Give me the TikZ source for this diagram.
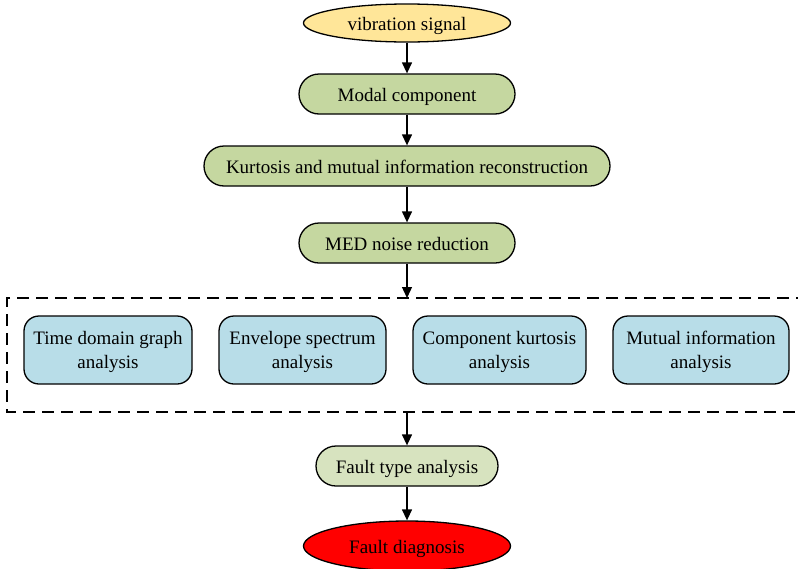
\documentclass[tikz,border=0pt]{standalone}
\usepackage{fontspec}
\setmainfont{Liberation Serif}
\usetikzlibrary{arrows.meta}
\usetikzlibrary{shapes.geometric}

\definecolor{signalfill}{HTML}{FFE699}
\definecolor{stepfill}{HTML}{C5D7A0}
\definecolor{faultfill}{HTML}{D7E3BF}
\definecolor{analysisfill}{HTML}{B8DDE8}

\tikzset{
  label text/.style={inner sep=0pt,text height=16pt,text depth=0.5pt,font=\fontsize{19}{24}\selectfont},
  oval/.style={draw,ellipse,line width=1.3pt,minimum width=207pt,minimum height=38pt,label text},
  stepbox/.style={draw,rectangle,rounded corners=20pt,line width=1.3pt,fill=stepfill,minimum height=40pt,label text},
  analysisbox/.style={draw,rectangle,rounded corners=15pt,line width=1.3pt,fill=analysisfill,minimum height=68pt,align=center,label text,text height=38pt},
  flow/.style={line width=1.3pt,-{Triangle[length=11pt,width=10pt]}}
}

\begin{document}
\begin{tikzpicture}[x=1pt,y=-1pt]

\useasboundingbox (0,0) rectangle (798,568);

\node[oval,fill=signalfill] (signal) at (407,23) {vibration signal};
\node[stepbox,minimum width=216pt] (modal) at (407,94) {Modal component};
\node[stepbox,minimum width=406pt] (recon) at (407,166) {Kurtosis and mutual information reconstruction};
\node[stepbox,minimum width=216pt] (med) at (407,243) {MED noise reduction};

% dashed frame round the four analyses
\draw[line width=1.3pt,dash pattern=on 12pt off 7pt] (808,298) -- (7,298) -- (7,412) -- (808,412);
\coordinate (frametop) at (407,298);
\coordinate (framebot) at (407,412);

\node[analysisbox,minimum width=168pt] (time) at (108,350) {Time domain graph\\analysis};
\node[analysisbox,minimum width=167pt] (env) at (302.5,350) {Envelope spectrum\\analysis};
\node[analysisbox,minimum width=173pt] (kurt) at (499.5,350) {Component kurtosis\\analysis};
\node[analysisbox,minimum width=176pt] (mutual) at (701,350) {Mutual information\\analysis};

\node[stepbox,fill=faultfill,minimum width=182pt] (type) at (407,466) {Fault type analysis};
\node[oval,fill=red,minimum height=50pt] (diag) at (407,546) {Fault diagnosis};

\draw[flow] (signal) -- (modal);
\draw[flow] (modal) -- (recon);
\draw[flow] (recon) -- (med);
\draw[flow] (med) -- (frametop);
\draw[flow] (framebot) -- (type);
\draw[flow] (type) -- (diag);

\end{tikzpicture}
\end{document}
